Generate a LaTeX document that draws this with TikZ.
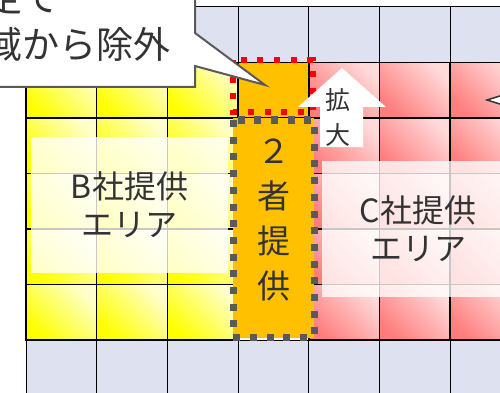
\documentclass[tikz,border=0pt]{standalone}
\usepackage{fontspec}
\setmainfont{Noto Sans CJK JP}
\usetikzlibrary{positioning}
\definecolor{lavender}{RGB}{222,225,240}
\definecolor{paleyellow}{RGB}{255,255,205}
\definecolor{rosy}{RGB}{255,125,125}
\definecolor{palerose}{RGB}{255,218,218}
\definecolor{amber}{RGB}{255,192,0}
\definecolor{inkgray}{RGB}{51,51,51}
\definecolor{dotgray}{RGB}{90,90,90}
\newcommand{\jfont}[2]{\fontsize{#1}{#2}\selectfont}

\begin{document}
\begin{tikzpicture}[x=1pt,y=-1pt,
  lavcell/.style={fill=lavender,draw=black,line width=1pt},
  bcell/.style={draw=black,line width=1.5pt,top color=yellow,bottom color=paleyellow,shading angle=135},
  ccell/.style={draw=black,line width=1.5pt,top color=rosy,bottom color=palerose,shading angle=135},
  veil/.style={fill=white,fill opacity=0.78,text opacity=1,text=inkgray,align=center,inner sep=0pt},
  reddots/.style={draw=red,line width=6pt,dash pattern=on 6pt off 10.7pt},
  graydots/.style={draw=dotgray,line width=7pt,dash pattern=on 7pt off 9.7pt},
  jtext/.style={text=inkgray,inner sep=0pt,align=center}]

  \useasboundingbox (0,0) rectangle (500,393);
  \clip (0,0) rectangle (500,393);

  \foreach \c in {0,...,6} {
    \path[lavcell] (26+70.7*\c,7) rectangle ++(70.7,55.5);
    \path[lavcell] (26+70.7*\c,340) rectangle ++(70.7,55.5);
  }
  \foreach \c in {0,1,2}
    \foreach \r in {1,...,5}
      \path[bcell] (26+70.7*\c,7+55.5*\r) rectangle ++(70.7,55.5);
  \foreach \c in {4,5,6}
    \foreach \r in {1,...,5}
      \path[ccell] (26+70.7*\c,7+55.5*\r) rectangle ++(70.7,55.5);

  % enlarged cell and the shared column
  \path[fill=amber,draw=black,line width=1pt] (238.1,62.5) rectangle (308.8,118);
  \path[reddots] (233,60) rectangle (313,112);
  \path[fill=amber] (233,118) rectangle (314,338);
  \path[graydots] (233,120) rectangle (314,337);
  \node[jtext,font=\jfont{33}{45}] (both) at (274,220) {２\\者\\提\\供};

  \node[veil,minimum width=197,minimum height=136,font=\jfont{32}{38}] (barea) at (129.5,205) {B社提供\\エリア};
  \node[veil,minimum width=192,minimum height=136,font=\jfont{32}{38}] (carea) at (418,229) {C社提供\\エリア};

  % up arrow
  \path[fill=white] (342,68) -- (386,107) -- (363,107) -- (363,147) -- (320,147)
    -- (320,107) -- (298,107) -- cycle;
  \node[jtext,font=\jfont{25}{35}] (kakudai) at (338,117) {拡\\大};

  \path[fill=white,draw=inkgray,line width=1.5pt] (487,100) -- (503,95) -- (503,105) -- cycle;

  % callout
  \coordinate (tip) at (265,85);
  \path[fill=white,draw=dotgray,line width=2pt] (-10,-10) -- (195,-10) -- (195,33) -- (tip)
    -- (195,66) -- (195,87) -- (-10,87) -- cycle;
  \node[jtext,anchor=base west,font=\jfont{37}{47}] (note1) at (-52,12) {限定で};
  \node[jtext,anchor=base west,font=\jfont{37}{47}] (note2) at (-52,59) {地域から除外};

\end{tikzpicture}
\end{document}
